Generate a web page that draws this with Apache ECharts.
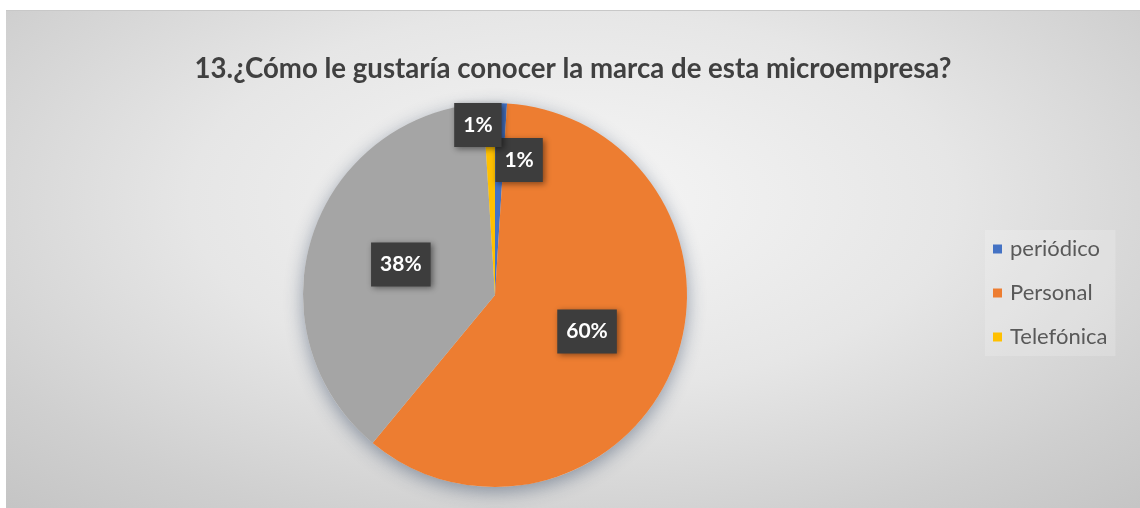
<!DOCTYPE html>
<html>
<head>
<meta charset="utf-8">
<script src="https://cdn.jsdelivr.net/npm/echarts@6/dist/echarts.min.js"></script>
<style>
  html, body { margin: 0; padding: 0; background: #ffffff; }
  #chart {
    position: absolute; left: 6px; top: 10px; width: 1134px; height: 498px;
    background: radial-gradient(ellipse 75% 85% at 50% 38%, #f6f6f6 0%, #e6e6e6 45%, #cfcfcf 80%, #c4c4c4 100%);
    border-top: 1px solid #c8c8c8;
    box-sizing: border-box;
  }
</style>
</head>
<body>
<div id="chart"></div>
<script>
// Survey answers, share of respondents in percent (clockwise from 12 o'clock)
const titleText = '13.¿Cómo le gustaría conocer la marca de esta microempresa?';
const categories = ['periódico', 'Personal', 'Otro', 'Telefónica'];
const shares = [1, 60, 38, 1];
const legendNames = ['periódico', 'Personal', 'Telefónica'];

const colors = ['#4472C4', '#ED7D31', '#A5A5A5', '#FFC000'];
// small slices get their label nudged away from the centre
const labelOffsets = [[21, -36], [0, 0], [0, 0], [-14, -71]];

const chart = echarts.init(document.getElementById('chart'), null, { renderer: 'canvas' });

const pieData = categories.map((name, i) => ({
  name: name,
  value: shares[i],
  itemStyle: { color: colors[i] },
  label: { offset: labelOffsets[i] }
}));

chart.setOption({
  backgroundColor: 'transparent',
  animation: false,
  title: {
    text: titleText,
    left: 'center',
    top: 39,
    textStyle: {
      fontFamily: 'Lato',
      fontWeight: 'bold',
      fontSize: 27.6,
      color: '#404040'
    }
  },
  legend: {
    orient: 'vertical',
    left: 979,
    top: 219,
    data: legendNames,
    icon: 'rect',
    itemWidth: 9,
    itemHeight: 9,
    itemGap: 22,
    padding: [8, 8, 8, 8],
    backgroundColor: 'rgba(255,255,255,0.18)',
    textStyle: {
      fontFamily: 'Lato',
      fontSize: 22,
      color: '#595959',
      lineHeight: 22,
      padding: [0, 0, 0, 3]
    }
  },
  series: [
    {
      // soft drop shadow under the whole disc
      type: 'pie',
      silent: true,
      center: [489, 284],
      radius: 192,
      z: 1,
      label: { show: false },
      labelLine: { show: false },
      data: [{
        value: 1,
        itemStyle: {
          color: '#dddddd',
          shadowBlur: 18,
          shadowColor: 'rgba(40,60,90,0.45)',
          shadowOffsetY: 5
        }
      }]
    },
    {
      type: 'pie',
      center: [489, 284],
      radius: 192,
      startAngle: 90,
      clockwise: true,
      z: 2,
      itemStyle: { borderWidth: 0 },
      labelLayout: { hideOverlap: false },
      label: {
        show: true,
        position: 'inside',
        formatter: '{c}%',
        fontFamily: 'Lato',
        fontWeight: 'bold',
        fontSize: 21,
        color: '#ffffff',
        backgroundColor: '#3d3d3d',
        padding: [12, 9, 11, 9],
        shadowBlur: 6,
        shadowColor: 'rgba(0,0,0,0.45)',
        shadowOffsetX: 2,
        shadowOffsetY: 2
      },
      labelLine: { show: false },
      data: pieData
    }
  ]
});
</script>
</body>
</html>
